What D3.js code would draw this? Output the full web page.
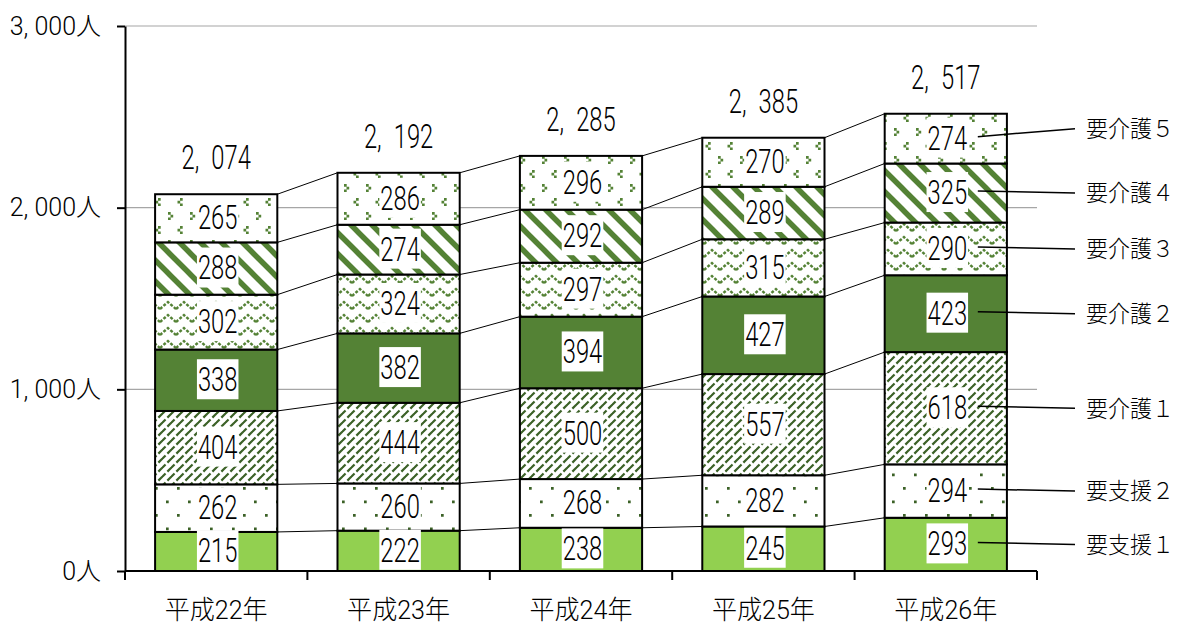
<!DOCTYPE html>
<html lang="ja">
<head>
<meta charset="UTF-8" />
<title>要介護認定者数の推移</title>
<script src="https://d3js.org/d3.v7.min.js"></script>
<style>
    body { margin: 0; background: #fff; }
    text { font-family: Roboto, "Noto Sans CJK JP", sans-serif; fill: #000; }
    .num { font-weight: 300; }
    .jp { font-family: "Noto Sans CJK JP", sans-serif; font-weight: 300; }
</style>
</head>
<body>
<svg id="chart"></svg>
<script>
    const years = ["平成22年", "平成23年", "平成24年", "平成25年", "平成26年"];
    const seriesNames = ["要支援１", "要支援２", "要介護１", "要介護２", "要介護３", "要介護４", "要介護５"];
    const shien1 = [215, 222, 238, 245, 293];
    const shien2 = [262, 260, 268, 282, 294];
    const kaigo1 = [404, 444, 500, 557, 618];
    const kaigo2 = [338, 382, 394, 427, 423];
    const kaigo3 = [302, 324, 297, 315, 290];
    const kaigo4 = [288, 274, 292, 289, 325];
    const kaigo5 = [265, 286, 296, 270, 274];
    const totals = [2074, 2192, 2285, 2385, 2517];
    const yTicks = [0, 1000, 2000, 3000];

    const series = [shien1, shien2, kaigo1, kaigo2, kaigo3, kaigo4, kaigo5];
    const table = years.map((year, i) => {
        const row = { year };
        seriesNames.forEach((name, k) => { row[name] = series[k][i]; });
        return row;
    });

    const width = 1178, height = 629;
    const margin = { top: 26, right: 141, bottom: 58, left: 125 };
    const squeeze = 0.72; // narrow number font

    const svg = d3.select("#chart").attr("width", width).attr("height", height);

    const green = "#548235";
    const darkGreen = "#3b6126";
    const defs = svg.append("defs");

    function pattern(id, w, h) {
        const p = defs.append("pattern").attr("id", id)
            .attr("patternUnits", "userSpaceOnUse").attr("width", w).attr("height", h);
        p.append("rect").attr("width", w).attr("height", h).attr("fill", "#fff");
        return p;
    }

    // 要支援2: sparse dots
    pattern("p-s2", 22, 27).append("path")
        .attr("d", "M1,1h2.7v2.7h-2.7zM12,14.5h2.7v2.7h-2.7z")
        .attr("fill", darkGreen);

    // 要介護1: dashed upward diagonal
    pattern("p-k1", 9, 9).append("path")
        .attr("d", "M0,9L9,0M-3,3L3,-3M6,12L12,6")
        .attr("stroke", darkGreen).attr("stroke-width", 2.2).attr("stroke-dasharray", "5,2.6");

    // 要介護3: zigzag
    pattern("p-k3", 16, 13).append("path")
        .attr("d", "M0,10L8,3L16,10")
        .attr("fill", "none").attr("stroke", green).attr("stroke-width", 2.4).attr("stroke-dasharray", "3,1.6");

    // 要介護4: wide downward diagonal
    pattern("p-k4", 21, 21).append("path")
        .attr("d", "M0,0L21,21M-10.5,10.5L10.5,31.5M10.5,-10.5L31.5,10.5")
        .attr("stroke", green).attr("stroke-width", 5.5);

    // 要介護5: confetti of small chevrons
    pattern("p-k5", 22, 28).append("path")
        .attr("d", "M4,2h2.7v2.7h-2.7zM1.5,4.7h2.7v2.7h-2.7zM4,7.4h2.7v2.7h-2.7z" +
            "M14,16h2.7v2.7h-2.7zM16.5,18.7h2.7v2.7h-2.7zM14,21.4h2.7v2.7h-2.7z")
        .attr("fill", green);

    const fills = ["#92d050", "url(#p-s2)", "url(#p-k1)", green, "url(#p-k3)", "url(#p-k4)", "url(#p-k5)"];

    const x = d3.scaleBand()
        .domain(years)
        .range([margin.left, width - margin.right])
        .paddingInner(0.33)
        .paddingOuter(0.165);

    const y = d3.scaleLinear()
        .domain([0, 3000])
        .range([height - margin.bottom, margin.top]);

    const stacked = d3.stack().keys(seriesNames)(table);

    function narrow(sel) {
        sel.each(function () {
            const len = this.getComputedTextLength();
            d3.select(this).attr("textLength", len * squeeze).attr("lengthAdjust", "spacingAndGlyphs");
        });
    }

    // gridlines
    svg.append("g")
        .selectAll("line")
        .data(yTicks.filter(d => d > 0))
        .join("line")
        .attr("x1", margin.left).attr("x2", width - margin.right)
        .attr("y1", d => y(d)).attr("y2", d => y(d))
        .attr("stroke", "#a6a6a6").attr("stroke-width", 1.2);

    // bars
    const layer = svg.append("g")
        .selectAll("g")
        .data(stacked)
        .join("g")
        .attr("fill", (d, k) => fills[k]);

    layer.selectAll("rect")
        .data(d => d)
        .join("rect")
        .attr("x", d => x(d.data.year))
        .attr("width", x.bandwidth())
        .attr("y", d => y(d[1]))
        .attr("height", d => y(d[0]) - y(d[1]))
        .attr("stroke", "#000")
        .attr("stroke-width", 2);

    // series lines between bars
    const links = [];
    stacked.forEach(s => {
        for (let i = 0; i < s.length - 1; i++) links.push({ a: s[i], b: s[i + 1] });
    });
    svg.append("g")
        .selectAll("line")
        .data(links)
        .join("line")
        .attr("x1", d => x(d.a.data.year) + x.bandwidth())
        .attr("y1", d => y(d.a[1]))
        .attr("x2", d => x(d.b.data.year))
        .attr("y2", d => y(d.b[1]))
        .attr("stroke", "#000").attr("stroke-width", 1);

    // value labels with white boxes
    const labels = svg.append("g")
        .selectAll("g")
        .data(stacked.flatMap(s => s.map(d => ({ v: d[1] - d[0], yc: y((d[0] + d[1]) / 2), year: d.data.year }))))
        .join("g")
        .attr("transform", d => `translate(${x(d.year) + x.bandwidth() / 2 + 1.5},${d.yc - 1})`);

    const box = labels.append("rect")
        .attr("y", -20)
        .attr("height", 40)
        .attr("fill", "#fff");

    const valText = labels.append("text")
        .attr("class", "num")
        .attr("text-anchor", "middle")
        .attr("dy", "0.36em")
        .attr("font-size", 33)
        .text(d => d.v)
        .call(narrow);

    box.each(function (d, i) {
        const w = +valText.nodes()[i].getAttribute("textLength") + 2;
        d3.select(this).attr("x", -w / 2).attr("width", w);
    });

    // totals
    svg.append("g")
        .selectAll("text")
        .data(totals)
        .join("text")
        .attr("class", "num")
        .attr("x", (d, i) => x(years[i]) + x.bandwidth() / 2)
        .attr("y", d => y(d) - 37)
        .attr("dy", "0.36em")
        .attr("text-anchor", "middle")
        .attr("font-size", 33)
        .text(d => d3.format(",")(d).replace(",", ",\u2002"))
        .call(narrow);

    // series names at right with leader lines
    const last = stacked.map((s, k) => {
        const d = s[s.length - 1];
        const yc = y((d[0] + d[1]) / 2);
        return { name: seriesNames[k], yc, ly: k === stacked.length - 1 ? yc - 10 : yc };
    });
    const lastX = x(years[years.length - 1]) + x.bandwidth() / 2;

    svg.append("g")
        .selectAll("line")
        .data(last)
        .join("line")
        .attr("x1", lastX + 32).attr("y1", d => d.yc - 2)
        .attr("x2", width - margin.right + 38).attr("y2", d => d.ly)
        .attr("stroke", "#000").attr("stroke-width", 1.5);

    svg.append("g")
        .selectAll("text")
        .data(last)
        .join("text")
        .attr("class", "jp")
        .attr("x", width - margin.right + 49)
        .attr("y", d => d.ly)
        .attr("dy", "0.36em")
        .attr("font-size", 23)
        .attr("textLength", 88)
        .attr("lengthAdjust", "spacingAndGlyphs")
        .text(d => d.name);

    // y axis
    const yAxis = svg.append("g")
        .attr("transform", `translate(${margin.left},0)`)
        .call(d3.axisLeft(y)
            .tickValues(yTicks)
            .tickSizeInner(8)
            .tickSizeOuter(0)
            .tickPadding(16)
            .tickFormat(d => d3.format(",")(d).replace(",", ", ") + "人"));
    yAxis.select(".domain").attr("stroke", "#000").attr("stroke-width", 2);
    yAxis.selectAll(".tick line").attr("stroke", "#000").attr("stroke-width", 2);
    yAxis.selectAll(".tick text").attr("font-size", 25).attr("font-family", null)
        .attr("font-weight", 300).attr("fill", "#000");

    // x axis (ticks at category boundaries)
    const half = (x.step() - x.bandwidth()) / 2;
    const bounds = years.map(d => x(d) - half).concat([x(years[years.length - 1]) + x.bandwidth() + half]);
    const xAxis = svg.append("g");
    xAxis.append("line")
        .attr("x1", margin.left).attr("x2", width - margin.right)
        .attr("y1", y(0)).attr("y2", y(0))
        .attr("stroke", "#000").attr("stroke-width", 2);
    xAxis.selectAll("line.tick")
        .data(bounds)
        .join("line")
        .attr("class", "tick")
        .attr("x1", d => d).attr("x2", d => d)
        .attr("y1", y(0)).attr("y2", y(0) + 9)
        .attr("stroke", "#000").attr("stroke-width", 2);
    xAxis.selectAll("text")
        .data(years)
        .join("text")
        .attr("x", d => x(d) + x.bandwidth() / 2)
        .attr("y", 610)
        .attr("dy", "0.36em")
        .attr("text-anchor", "middle")
        .attr("font-size", 26)
        .attr("font-weight", 300)
        .attr("textLength", 103)
        .attr("lengthAdjust", "spacingAndGlyphs")
        .text(d => d);
</script>
</body>
</html>
